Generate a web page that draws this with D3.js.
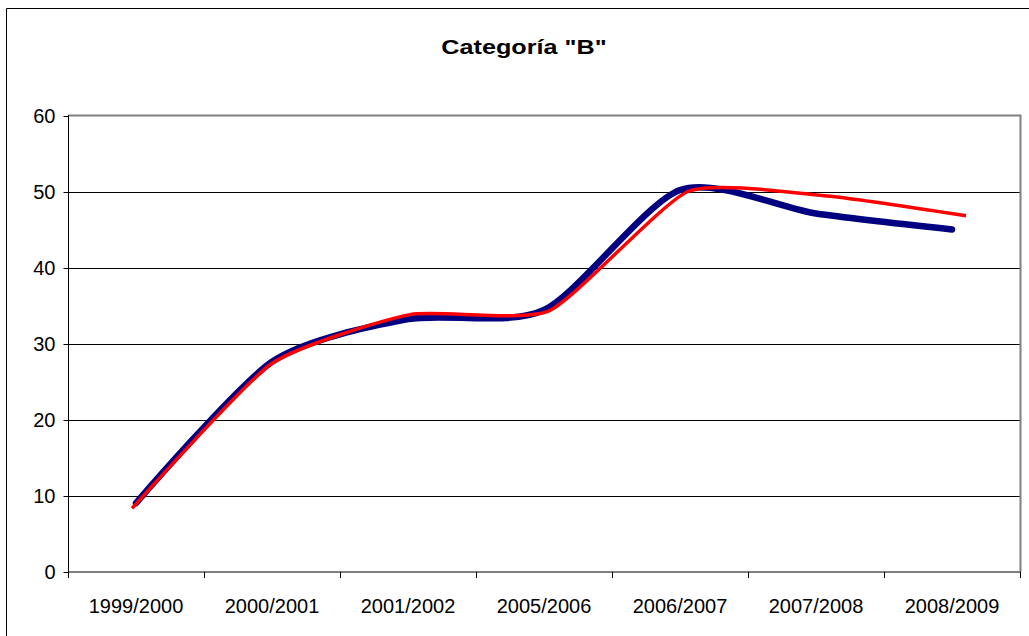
<!DOCTYPE html>
<html>
<head>
<meta charset="utf-8">
<script src="https://cdn.jsdelivr.net/npm/d3@7"></script>
<style>
  body { margin: 0; background: #fff; }
  svg text { font-family: "Liberation Sans", Arial, sans-serif; fill: #000; }
</style>
</head>
<body>
<svg id="chart" width="1029" height="636"></svg>
<script>
var title = 'Categoría "B"';
var cats = ["1999/2000", "2000/2001", "2001/2002", "2005/2006", "2006/2007", "2007/2008", "2008/2009"];
var blueVals = [9.0, 27.6, 33.2, 34.4, 50.2, 47.1, 45.0];
var redVals = [8.3, 27.3, 33.8, 34.3, 50.0, 49.4, 46.8];
var yTicks = [0, 10, 20, 30, 40, 50, 60];

var svg = d3.select("#chart");
var pLeft = 68, pRight = 1020, pTop = 115.5, pBottom = 571.5;

// outer chart border (only left/top visible, rest is cropped off)
svg.append("path")
    .attr("d", "M6.5,636V8.5H1029")
    .style("fill", "none").style("stroke", "#000").style("stroke-width", 1);

svg.append("text")
    .attr("x", 524).attr("y", 54)
    .attr("text-anchor", "middle")
    .style("font-size", "21px").style("font-weight", "bold")
    .attr("transform", "translate(524,0) scale(1.2,1) translate(-524,0)")
    .text(title);

var x = d3.scaleBand().domain(cats).range([pLeft, pRight]);
// second series is plotted on a slightly wider secondary category axis
var x2 = d3.scalePoint().domain(cats).range([132, 966]);
var y = d3.scaleLinear().domain([0, 60]).range([pBottom, pTop]);

// gridlines
svg.selectAll("line.grid")
    .data(yTicks.filter(function(d) { return d > 0 && d < 60; }))
  .enter().append("line")
    .attr("class", "grid")
    .attr("x1", pLeft).attr("x2", pRight)
    .attr("y1", function(d) { return Math.round(y(d)) + 0.5; })
    .attr("y2", function(d) { return Math.round(y(d)) + 0.5; })
    .style("stroke", "#000").style("stroke-width", 1);

// plot frame top/right
svg.append("path")
    .attr("d", "M" + pLeft + "," + pTop + "H" + (pRight + 0.5) + "V" + pBottom)
    .style("fill", "none").style("stroke", "#808080").style("stroke-width", 2);

// y axis
var yAxis = d3.axisLeft(y).tickValues(yTicks).tickSize(5).tickPadding(8);
var gy = svg.append("g").attr("transform", "translate(" + (pLeft + 0.5) + ",0.5)").call(yAxis);
gy.select(".domain").remove();
gy.append("line").attr("y1", pTop - 0.5).attr("y2", pBottom).style("stroke", "#000");
gy.selectAll(".tick line").style("stroke", "#000");
gy.selectAll("text").style("font-size", "20px").style("font-family", "Liberation Sans, Arial, sans-serif").style("fill", "#000");

// x axis with ticks between categories
var gx = svg.append("g").attr("transform", "translate(0," + (pBottom + 0.5) + ")");
gx.append("line").attr("x1", pLeft).attr("x2", pRight + 1).style("stroke", "#000").style("stroke-width", 1);
var bounds = cats.map(function(c) { return x(c); }).concat([x(cats[cats.length - 1]) + x.bandwidth()]);
gx.selectAll("line.tk").data(bounds).enter().append("line")
    .attr("class", "tk")
    .attr("x1", function(d) { return Math.round(d) + 0.5; })
    .attr("x2", function(d) { return Math.round(d) + 0.5; })
    .attr("y1", 0).attr("y2", 6)
    .style("stroke", "#000");
gx.selectAll("text").data(cats).enter().append("text")
    .attr("x", function(d) { return x(d) + x.bandwidth() / 2; })
    .attr("y", 41)
    .attr("text-anchor", "middle")
    .style("font-size", "20px")
    .text(function(d) { return d; });

var blueLine = d3.line()
    .x(function(d, i) { return x(cats[i]) + x.bandwidth() / 2; })
    .y(function(d) { return y(d); })
    .curve(d3.curveCardinal.tension(0.25));
var redLine = d3.line()
    .x(function(d, i) { return x2(cats[i]); })
    .y(function(d) { return y(d); })
    .curve(d3.curveCardinal.tension(0.45));

svg.append("path").datum(blueVals)
    .attr("d", blueLine)
    .style("fill", "none").style("stroke", "#000080")
    .style("stroke-width", 6.5).style("stroke-linecap", "round").style("stroke-linejoin", "round");

svg.append("path").datum(redVals)
    .attr("d", redLine)
    .style("fill", "none").style("stroke", "#ff0000")
    .style("stroke-width", 3.5);
</script>
</body>
</html>
